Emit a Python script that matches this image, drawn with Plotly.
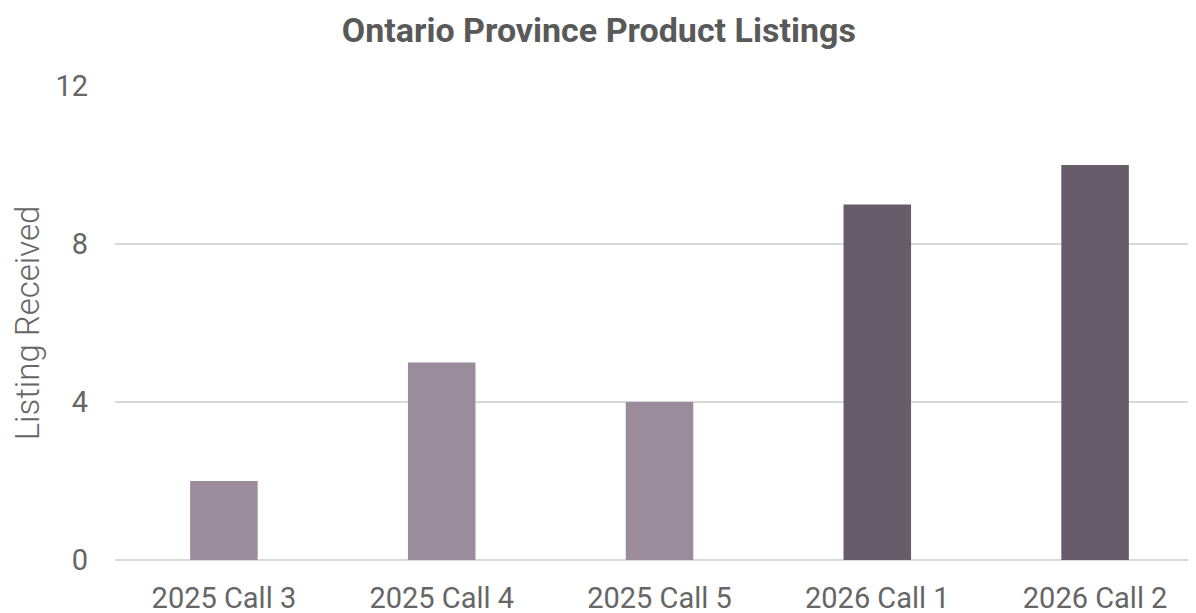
import plotly.graph_objects as go

categories = ["2025 Call 3", "2025 Call 4", "2025 Call 5", "2026 Call 1", "2026 Call 2"]
listings = [2, 5, 4, 9, 10]
bar_colors = ["#9b8c9c", "#9b8c9c", "#9b8c9c", "#675c69", "#675c69"]
y_ticks = [0, 4, 8, 12]

fig = go.Figure(go.Bar(
    x=categories, y=listings,
    marker=dict(color=bar_colors, line=dict(width=0)),
))

fig.update_layout(
    width=1196, height=613,
    paper_bgcolor="white", plot_bgcolor="white",
    margin=dict(l=107, r=0, t=78, b=61),
    bargap=0.69,
    showlegend=False,
    font=dict(family="Roboto", color="#666666"),
    title=dict(
        text="<b>Ontario Province Product Listings</b>",
        x=0.494, xanchor="center", xref="container",
        y=1 - 22 / 613, yanchor="middle", yref="container",
        font=dict(family="Roboto", size=34, color="#595959"),
    ),
)
fig.update_xaxes(
    type="category", range=[-0.5, 4.5],
    showgrid=False, showline=False, zeroline=False,
    tickfont=dict(size=29, color="#666666"),
    ticks="", ticklabelstandoff=18,
    automargin=False,
)
fig.update_yaxes(
    range=[0, 12], tickvals=y_ticks,
    showgrid=True, gridcolor="#d9d9d9", gridwidth=2,
    zeroline=True, zerolinecolor="#d9d9d9", zerolinewidth=2,
    showline=False, ticks="",
    tickfont=dict(size=29, color="#666666"),
    ticklabelstandoff=26,
    title=dict(text="Listing Received",
               font=dict(size=33, color="#666666", weight=300),
               standoff=20),
    automargin=False,
)

fig.write_html("out.html")
